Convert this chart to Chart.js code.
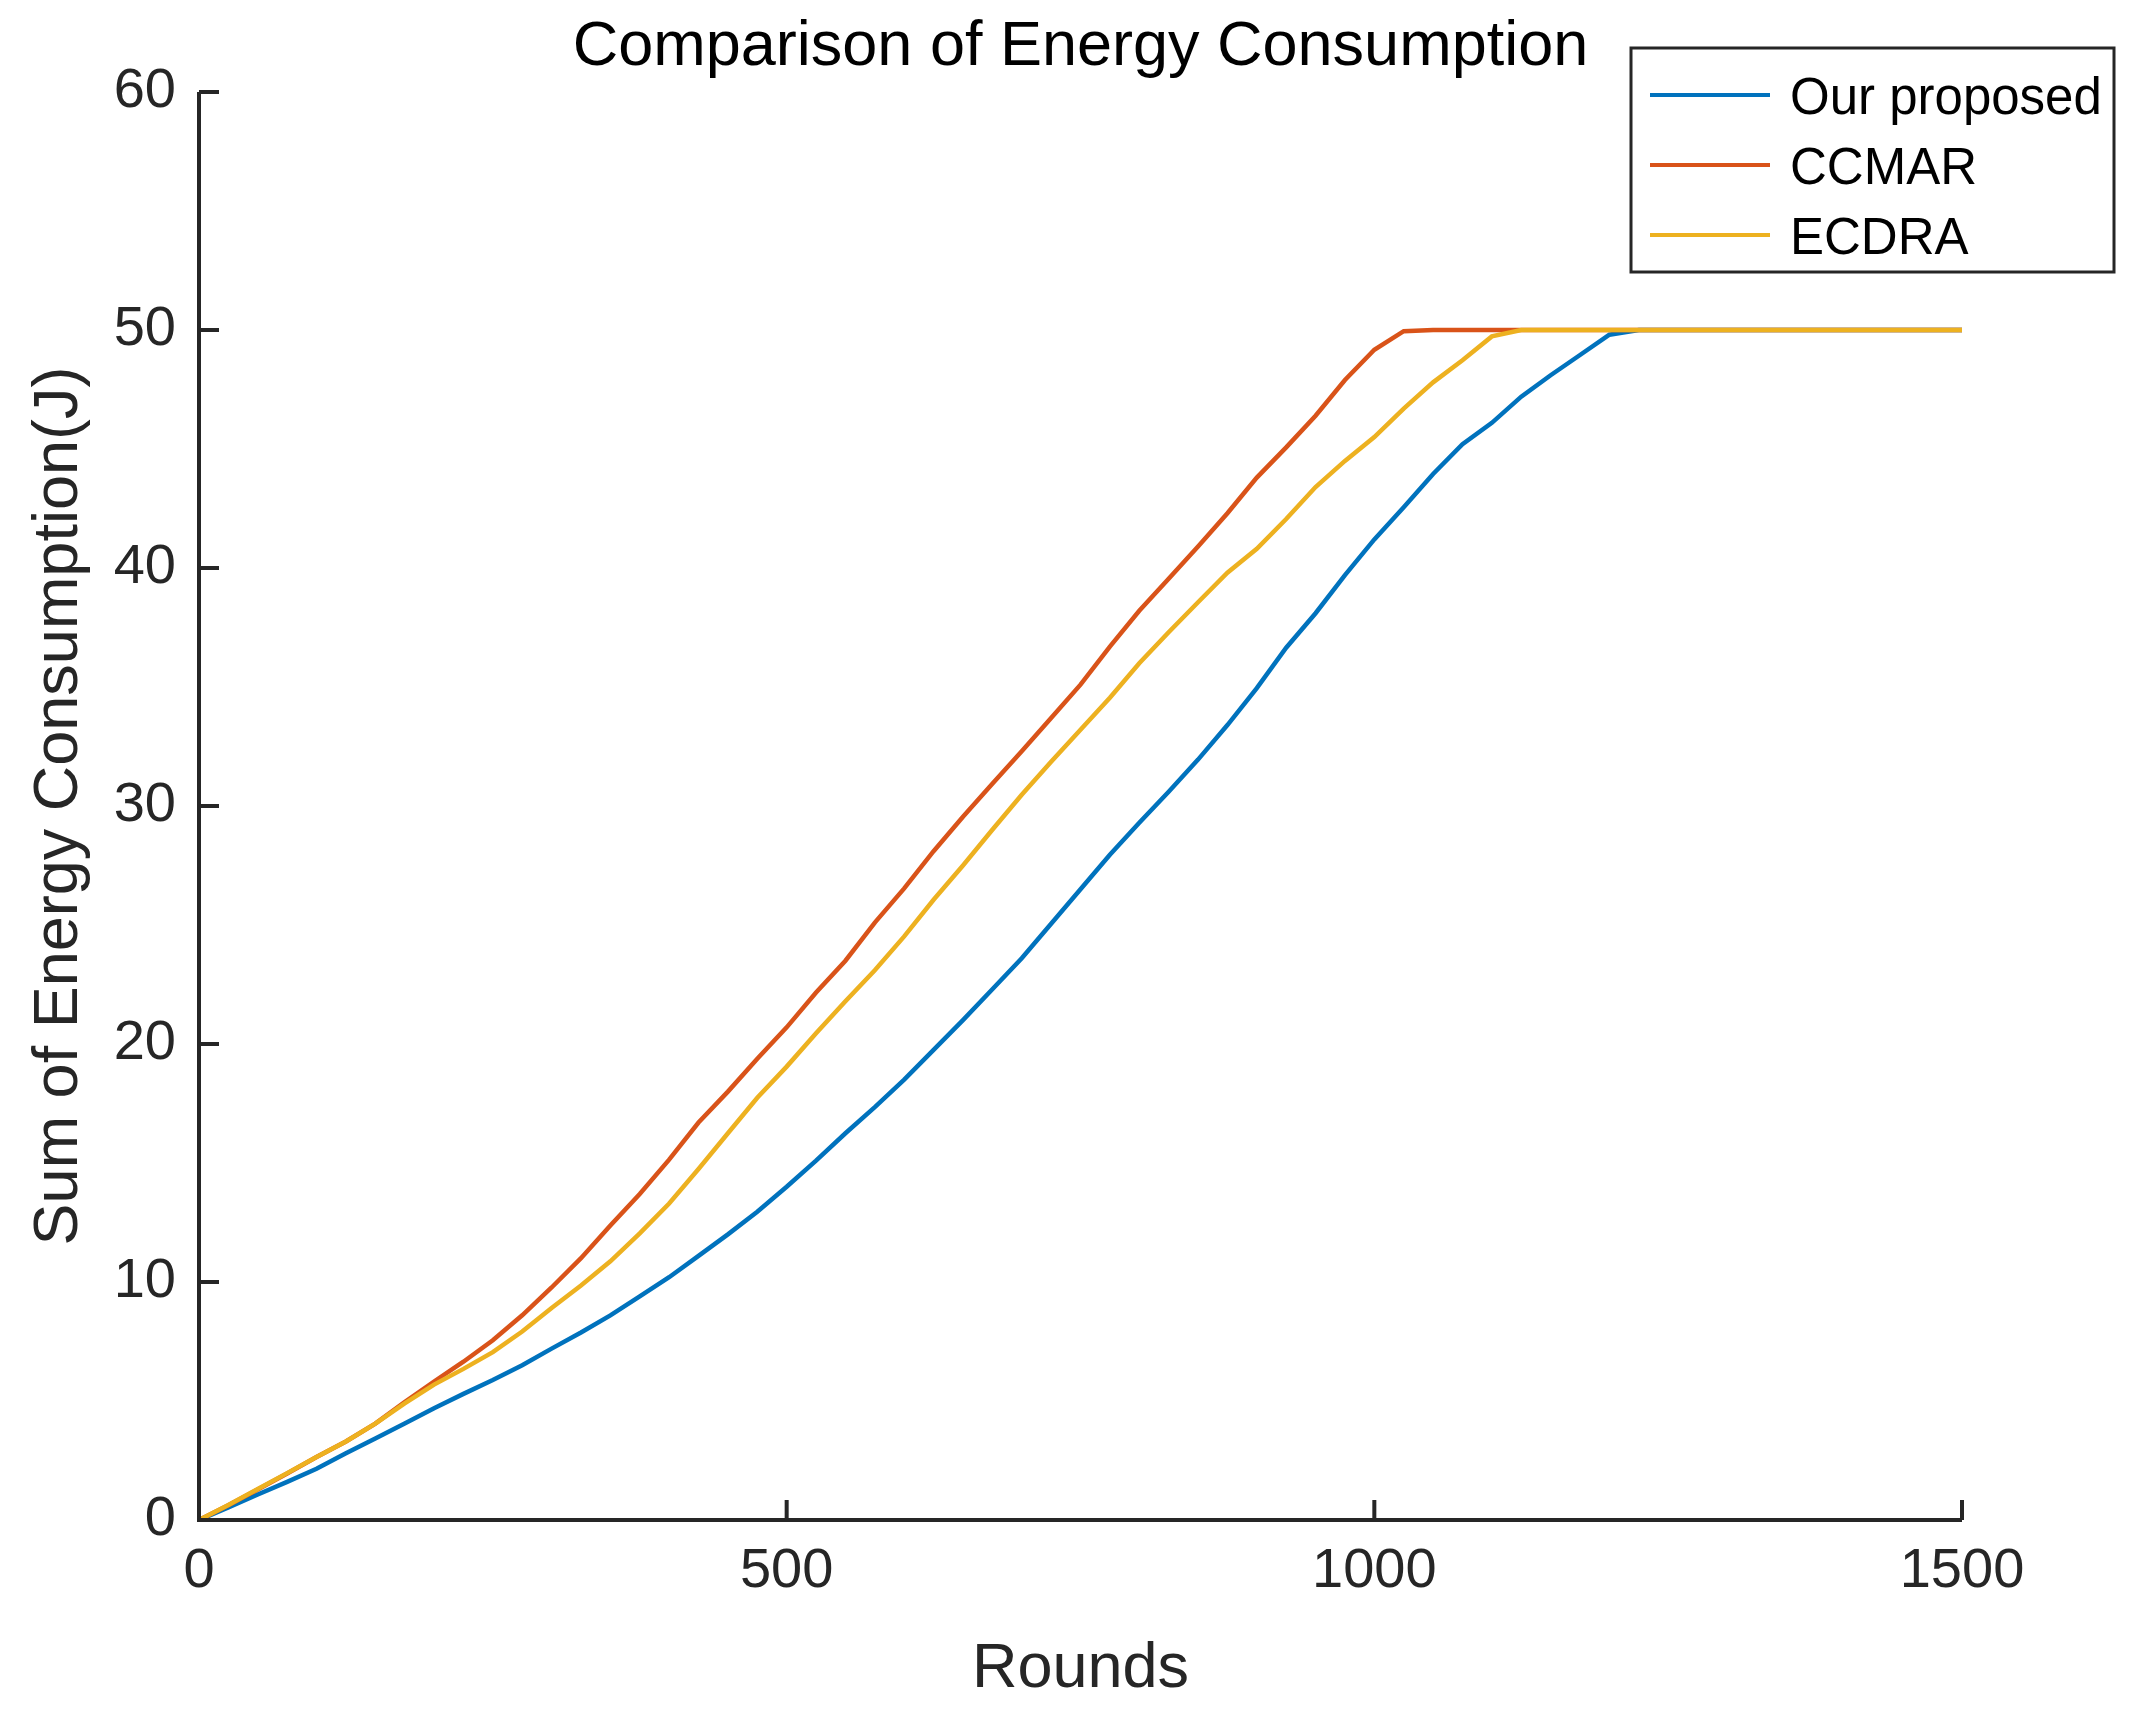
<!DOCTYPE html>
<html>
<head>
<meta charset="utf-8">
<title>Comparison of Energy Consumption</title>
<script src="https://cdn.jsdelivr.net/npm/chart.js@4.4.1/dist/chart.umd.min.js"></script>
<style>
    html, body { margin: 0; padding: 0; background: #fff; }
    #wrap { width: 2151px; height: 1722px; }
</style>
</head>
<body>
<div id="wrap"><canvas id="energyChart" width="2151" height="1722"></canvas></div>
<script>
// data
const rounds = [0, 25, 50, 75, 100, 125, 150, 175, 200, 225, 250, 275, 300, 325, 350, 375,
    400, 425, 450, 475, 500, 525, 550, 575, 600, 625, 650, 675, 700, 725, 750, 775,
    800, 825, 850, 875, 900, 925, 950, 975, 1000, 1025, 1050, 1075, 1100, 1125, 1150,
    1175, 1200, 1225, 1250, 1300, 1350, 1400, 1450, 1500];

const ourProposed = [0, 0.53, 1.07, 1.6, 2.15, 2.8, 3.42, 4.05, 4.7, 5.3, 5.88, 6.5, 7.2, 7.88,
    8.6, 9.4, 10.2, 11.1, 12.0, 12.95, 14.0, 15.1, 16.25, 17.35, 18.5, 19.75, 21.0, 22.3,
    23.6, 25.05, 26.5, 27.95, 29.3, 30.6, 31.95, 33.4, 34.95, 36.65, 38.1, 39.7, 41.2,
    42.55, 43.95, 45.2, 46.1, 47.2, 48.1, 48.95, 49.8, 50, 50, 50, 50, 50, 50, 50];

const ccmar = [0, 0.62, 1.28, 1.95, 2.65, 3.3, 4.05, 4.95, 5.82, 6.65, 7.55, 8.6, 9.77, 11.0,
    12.37, 13.7, 15.14, 16.7, 18.0, 19.38, 20.7, 22.16, 23.5, 25.1, 26.54, 28.1, 29.55,
    30.93, 32.3, 33.7, 35.1, 36.7, 38.2, 39.55, 40.9, 42.3, 43.8, 45.07, 46.4, 47.9,
    49.17, 49.95, 50, 50, 50, 50, 50, 50, 50, 50, 50, 50, 50, 50, 50, 50];

const ecdra = [0, 0.63, 1.3, 1.97, 2.65, 3.3, 4.05, 4.9, 5.69, 6.35, 7.05, 7.92, 8.91, 9.85,
    10.87, 12.04, 13.3, 14.75, 16.25, 17.74, 19.05, 20.45, 21.8, 23.1, 24.52, 26.06, 27.5,
    29.0, 30.47, 31.86, 33.2, 34.55, 36.0, 37.3, 38.56, 39.8, 40.81, 42.06, 43.4, 44.5,
    45.5, 46.7, 47.8, 48.73, 49.73, 50, 50, 50, 50, 50, 50, 50, 50, 50, 50, 50];

const yTicks = [0, 10, 20, 30, 40, 50, 60];
const xTicks = [0, 500, 1000, 1500];

const FONT = '"Liberation Sans", Arial, Helvetica, sans-serif';
const axisColor = '#262626';

function toPoints(values) {
    return rounds.map((r, i) => ({ x: r, y: values[i] }));
}

// axes, inward ticks, title and boxed legend in MATLAB style
const matlabFrame = {
    id: 'matlabFrame',
    afterDraw(chart) {
        const { ctx, chartArea: a, scales: { x, y } } = chart;
        ctx.save();

        ctx.strokeStyle = axisColor;
        ctx.lineWidth = 4;
        ctx.beginPath();
        ctx.moveTo(a.left, a.top);
        ctx.lineTo(a.left, a.bottom);
        ctx.lineTo(a.right, a.bottom);
        ctx.stroke();

        ctx.beginPath();
        yTicks.forEach(v => {
            const py = y.getPixelForValue(v);
            ctx.moveTo(a.left, py);
            ctx.lineTo(a.left + 20, py);
        });
        xTicks.forEach(v => {
            const px = x.getPixelForValue(v);
            ctx.moveTo(px, a.bottom);
            ctx.lineTo(px, a.bottom - 20);
        });
        ctx.stroke();

        // title
        ctx.fillStyle = '#000';
        ctx.font = '63px ' + FONT;
        ctx.textAlign = 'center';
        ctx.textBaseline = 'alphabetic';
        ctx.fillText('Comparison of Energy Consumption', (a.left + a.right) / 2, 65);

        // axis titles
        ctx.fillStyle = axisColor;
        ctx.font = '63px ' + FONT;
        ctx.fillText('Rounds', (a.left + a.right) / 2, 1687);
        ctx.save();
        ctx.translate(77, (a.top + a.bottom) / 2);
        ctx.rotate(-Math.PI / 2);
        ctx.fillText('Sum of Energy Consumption(J)', 0, 0);
        ctx.restore();

        // legend
        const lx = 1631, ly = 48, lw = 483, lh = 224;
        ctx.fillStyle = '#fff';
        ctx.fillRect(lx, ly, lw, lh);
        ctx.strokeStyle = axisColor;
        ctx.lineWidth = 3;
        ctx.strokeRect(lx, ly, lw, lh);
        ctx.font = '51px ' + FONT;
        ctx.textAlign = 'left';
        chart.data.datasets.forEach((ds, i) => {
            const rowY = 95 + i * 70;
            ctx.strokeStyle = ds.borderColor;
            ctx.lineWidth = 4;
            ctx.beginPath();
            ctx.moveTo(1650, rowY);
            ctx.lineTo(1770, rowY);
            ctx.stroke();
            ctx.fillStyle = '#000';
            ctx.fillText(ds.label, 1790, rowY + 19);
        });

        ctx.restore();
    }
};

new Chart(document.getElementById('energyChart'), {
    type: 'line',
    data: {
        datasets: [
            { label: 'Our proposed', data: toPoints(ourProposed), borderColor: '#0072BD', order: 3 },
            { label: 'CCMAR', data: toPoints(ccmar), borderColor: '#D95319', order: 2 },
            { label: 'ECDRA', data: toPoints(ecdra), borderColor: '#EDB120', order: 1 }
        ]
    },
    options: {
        responsive: false,
        devicePixelRatio: 1,
        animation: false,
        elements: {
            line: { borderWidth: 4.5, tension: 0, fill: false },
            point: { radius: 0 }
        },
        layout: { padding: { top: 92, right: 189, left: 0, bottom: 0 } },
        plugins: {
            legend: { display: false },
            tooltip: { enabled: false },
            title: { display: false }
        },
        scales: {
            x: {
                type: 'linear',
                min: 0,
                max: 1500,
                grid: { display: false, drawTicks: false },
                border: { display: false },
                afterFit: (scale) => { scale.height = 202; },
                ticks: {
                    stepSize: 500,
                    maxRotation: 0,
                    autoSkip: false,
                    padding: 18,
                    color: axisColor,
                    font: { family: FONT, size: 56 },
                    callback: (value) => String(value)
                }
            },
            y: {
                min: 0,
                max: 60,
                grid: { display: false, drawTicks: false },
                border: { display: false },
                afterFit: (scale) => { scale.width = 199; },
                ticks: {
                    stepSize: 10,
                    padding: 23,
                    color: axisColor,
                    font: { family: FONT, size: 56 },
                    callback: (value) => String(value)
                }
            }
        }
    },
    plugins: [matlabFrame]
});
</script>
</body>
</html>
